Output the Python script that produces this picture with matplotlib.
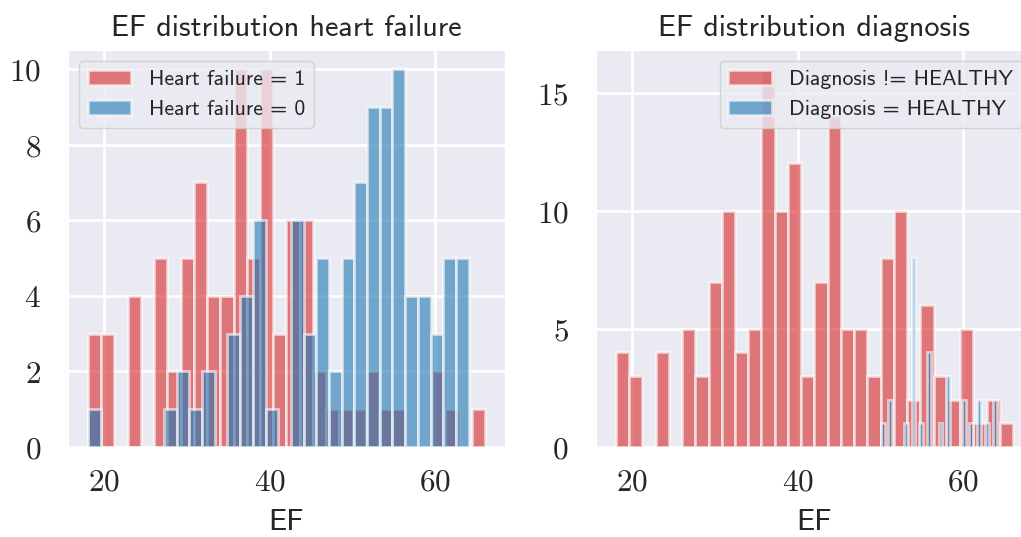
import numpy as np
import matplotlib
matplotlib.use("Agg")
import matplotlib.pyplot as plt
from matplotlib.ticker import FuncFormatter, MultipleLocator
import seaborn as sns

# ---- data (histogram counts per bin, 30 bins each) ----
hf1_range = (18, 66)   # Heart failure = 1
hf1_counts = [3, 3, 0, 4, 0, 5, 2, 5, 7, 4, 4, 10, 5, 10, 3, 6, 6, 2, 1, 1,
              1, 2, 1, 1, 0, 0, 2, 1, 0, 1]
hf0_range = (18, 64)   # Heart failure = 0
hf0_counts = [1, 0, 0, 0, 0, 0, 1, 2, 1, 2, 0, 3, 4, 6, 1, 0, 6, 3, 5, 2,
              5, 7, 9, 9, 10, 4, 4, 3, 5, 5]
sick_range = (18, 66)  # Diagnosis != HEALTHY
sick_counts = [4, 3, 0, 4, 0, 5, 3, 7, 10, 4, 5, 16, 10, 12, 3, 7, 14, 5, 5, 3,
               8, 10, 2, 6, 3, 2, 5, 1, 2, 1]
healthy_range = (50, 64)  # Diagnosis = HEALTHY
healthy_counts = [1, 0, 2, 0, 0, 0, 1, 0, 8, 0, 1, 0, 4, 0, 0, 1, 0, 3, 0, 0,
                  0, 2, 0, 1, 0, 2, 0, 1, 0, 2]

x_ticks = [20, 40, 60]
titles = ["EF distribution heart failure", "EF distribution diagnosis"]
labels_left = ["Heart failure = 1", "Heart failure = 0"]
labels_right = ["Diagnosis != HEALTHY", "Diagnosis = HEALTHY"]

sns.set_style("darkgrid")
plt.rcParams["mathtext.fontset"] = "cm"
plt.rcParams["font.family"] = ["cmss10", "DejaVu Sans"]
plt.rcParams["axes.unicode_minus"] = False
plt.rcParams["grid.linewidth"] = 1.9

RED = "tab:red"
BLUE = "tab:blue"

fig = plt.figure(figsize=(10.21, 5.37), dpi=100)
ax1 = fig.add_axes([0.0666, 0.1676, 0.428, 0.7393])
ax2 = fig.add_axes([0.5837, 0.1676, 0.428, 0.7393])


def draw_hist(ax, rng, counts, color, label):
    edges = np.linspace(rng[0], rng[1], len(counts) + 1)
    centers = (edges[:-1] + edges[1:]) / 2
    ax.hist(centers, bins=edges, weights=counts, color=color, alpha=0.6,
            edgecolor="white", linewidth=2.0, label=label)


draw_hist(ax1, hf1_range, hf1_counts, RED, labels_left[0])
draw_hist(ax1, hf0_range, hf0_counts, BLUE, labels_left[1])
draw_hist(ax2, sick_range, sick_counts, RED, labels_right[0])
draw_hist(ax2, healthy_range, healthy_counts, BLUE, labels_right[1])

fmt = FuncFormatter(lambda v, p: f"${v:g}$")
for ax, title, loc, step in [(ax1, titles[0], "upper left", 2),
                             (ax2, titles[1], "upper right", 5)]:
    ax.set_xticks(x_ticks)
    ax.yaxis.set_major_locator(MultipleLocator(step))
    ax.xaxis.set_major_formatter(fmt)
    ax.yaxis.set_major_formatter(fmt)
    ax.tick_params(axis="x", labelsize=22.5, pad=11)
    ax.tick_params(axis="y", labelsize=22.5, pad=16)
    ax.set_title(title, fontsize=21.8, pad=10)
    ax.set_xlabel("EF", fontsize=22, labelpad=9)
    ax.legend(loc=loc, fontsize=15.7, framealpha=0.8)

fig.savefig("out.png", dpi=100)
